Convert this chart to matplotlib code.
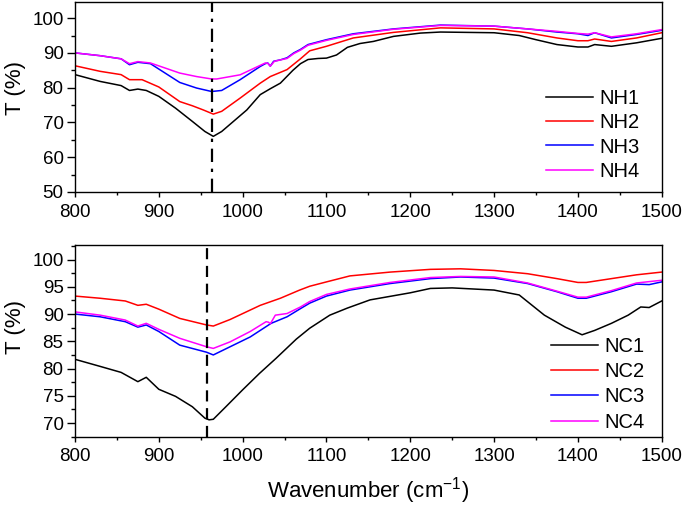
import matplotlib
matplotlib.use("Agg")
import matplotlib.pyplot as plt
from matplotlib.ticker import MultipleLocator

plt.rcParams['font.family'] = ['Liberation Sans', 'DejaVu Sans']
plt.rcParams['mathtext.fontset'] = 'custom'
plt.rcParams['mathtext.rm'] = 'Liberation Sans'

# ---------------- top panel data ----------------
nh1_x = [800, 830, 855, 865, 875, 885, 900, 920, 940, 955, 965, 975, 1005, 1021, 1033, 1045, 1060,
         1069, 1078, 1090, 1100, 1112, 1125, 1140, 1156, 1180, 1212, 1236, 1300, 1330, 1350, 1375,
         1400, 1412, 1420, 1440, 1470, 1500]
nh1_y = [83.75, 81.8, 80.6, 79.2, 79.6, 79.2, 77.5, 74.1, 70.3, 67.4, 66.0, 67.4, 73.6, 78.0, 79.7,
         81.3, 85.0, 86.9, 88.1, 88.4, 88.5, 89.4, 91.6, 92.7, 93.3, 94.75, 95.7, 96.0, 95.8, 95.0,
         93.8, 92.4, 91.7, 91.7, 92.4, 91.9, 92.9, 94.2]

nh2_x = [800, 830, 855, 865, 880, 900, 925, 940, 953, 965, 975, 997, 1021, 1033, 1053, 1069, 1080,
         1100, 1132, 1180, 1236, 1300, 1340, 1375, 1400, 1412, 1420, 1440, 1470, 1500]
nh2_y = [86.3, 84.7, 83.75, 82.3, 82.3, 80.2, 76.0, 74.8, 73.6, 72.4, 73.2, 77.0, 81.3, 83.2, 85.2,
         88.3, 90.6, 91.9, 94.3, 95.9, 97.2, 96.9, 95.8, 94.3, 93.5, 93.5, 94.0, 93.3, 94.3, 95.8]

nh3_x = [800, 830, 855, 865, 875, 890, 925, 945, 963, 975, 997, 1021, 1027, 1030, 1033, 1037, 1045,
         1053, 1061, 1069, 1078, 1100, 1132, 1180, 1236, 1300, 1340, 1375, 1400, 1412, 1420, 1440,
         1470, 1500]
nh3_y = [90.0, 89.2, 88.3, 86.6, 87.3, 86.9, 81.5, 79.9, 78.9, 79.2, 82.3, 86.1, 86.9, 87.1, 86.2,
         87.6, 88.0, 88.6, 90.0, 91.0, 92.4, 93.8, 95.5, 96.9, 98.0, 97.7, 96.9, 96.0, 95.5, 95.0,
         95.8, 94.3, 95.3, 96.5]

nh4_x = [800, 830, 855, 865, 875, 890, 925, 945, 963, 969, 997, 1027, 1030, 1033, 1038, 1053, 1061,
         1069, 1078, 1100, 1132, 1180, 1236, 1300, 1340, 1375, 1400, 1412, 1420, 1440, 1470, 1500]
nh4_y = [90.0, 89.2, 88.3, 86.9, 87.5, 87.1, 84.2, 83.2, 82.5, 82.5, 83.7, 87.1, 87.0, 86.2, 87.6,
         88.4, 89.8, 90.8, 92.2, 93.6, 95.3, 96.8, 97.9, 97.7, 96.9, 96.2, 95.6, 95.4, 95.8, 94.6,
         95.5, 96.7]

# ---------------- bottom panel data ----------------
nc1_x = [800, 830, 855, 875, 885, 900, 920, 940, 955, 960, 965, 980, 1000, 1020, 1040, 1064, 1080,
         1104, 1125, 1152, 1200, 1224, 1250, 1300, 1330, 1360, 1385, 1405, 1420, 1440, 1460, 1475,
         1485, 1500]
nc1_y = [81.7, 80.4, 79.3, 77.6, 78.4, 76.2, 74.9, 73.0, 70.9, 70.6, 70.7, 73.0, 76.1, 79.1, 81.9,
         85.4, 87.4, 89.8, 91.1, 92.6, 93.9, 94.7, 94.8, 94.4, 93.5, 89.8, 87.6, 86.2, 87.0, 88.3,
         89.8, 91.3, 91.2, 92.4]

nc2_x = [800, 830, 860, 875, 885, 900, 925, 957, 965, 985, 1021, 1045, 1068, 1080, 1100, 1128, 1176,
         1224, 1260, 1300, 1340, 1375, 1400, 1410, 1440, 1470, 1500]
nc2_y = [93.3, 92.9, 92.4, 91.6, 91.8, 90.9, 89.2, 88.0, 87.8, 89.0, 91.6, 92.9, 94.4, 95.1, 95.9,
         97.0, 97.7, 98.2, 98.3, 98.0, 97.4, 96.5, 95.8, 95.8, 96.5, 97.2, 97.7]

nc3_x = [800, 830, 860, 875, 885, 900, 925, 957, 965, 985, 1009, 1031, 1034, 1053, 1069, 1080, 1100,
         1128, 1176, 1224, 1260, 1300, 1340, 1375, 1400, 1410, 1440, 1470, 1485, 1500]
nc3_y = [90.0, 89.5, 88.6, 87.6, 88.0, 86.8, 84.3, 83.0, 82.5, 84.0, 85.8, 88.0, 88.3, 89.5, 91.0,
         92.0, 93.3, 94.4, 95.6, 96.5, 96.8, 96.6, 95.6, 94.1, 92.9, 92.9, 94.1, 95.5, 95.4, 95.9]

nc4_x = [800, 830, 860, 875, 885, 900, 925, 957, 965, 985, 1009, 1028, 1031, 1033, 1039, 1053, 1069,
         1080, 1100, 1128, 1176, 1224, 1260, 1300, 1340, 1375, 1400, 1410, 1440, 1470, 1500]
nc4_y = [90.4, 89.8, 88.9, 87.8, 88.3, 87.2, 85.55, 84.0, 83.7, 84.9, 86.8, 88.6, 88.5, 88.2, 89.8,
         90.1, 91.3, 92.3, 93.6, 94.6, 95.8, 96.7, 96.9, 96.8, 95.7, 94.2, 93.1, 93.1, 94.3, 95.7, 96.2]

top_labels = ["NH1", "NH2", "NH3", "NH4"]
bot_labels = ["NC1", "NC2", "NC3", "NC4"]
colors = ["black", "red", "blue", "magenta"]
top_marker_x = 963
bot_marker_x = 957

fig = plt.figure(figsize=(6.85, 5.09), dpi=100)
ax1 = fig.add_axes([0.1095, 0.6228, 0.8565, 0.373])
ax2 = fig.add_axes([0.1095, 0.142, 0.8565, 0.377])

top_series = [(nh1_x, nh1_y), (nh2_x, nh2_y), (nh3_x, nh3_y), (nh4_x, nh4_y)]
bot_series = [(nc1_x, nc1_y), (nc2_x, nc2_y), (nc3_x, nc3_y), (nc4_x, nc4_y)]

for (x, y), lab, c in zip(top_series, top_labels, colors):
    ax1.plot(x, y, color=c, lw=1.1, label=lab)
for (x, y), lab, c in zip(bot_series, bot_labels, colors):
    ax2.plot(x, y, color=c, lw=1.1, label=lab)

ax1.axvline(top_marker_x, color='black', lw=1.6, ls=(0, (6, 3, 1.5, 3)))
ax2.axvline(bot_marker_x, color='black', lw=1.6, ls=(0, (5, 3)))

ax1.set_xlim(800, 1500)
ax1.set_ylim(50, 104.6)
ax2.set_xlim(800, 1500)
ax2.set_ylim(67.5, 102.7)

ax1.yaxis.set_major_locator(MultipleLocator(10))
ax1.yaxis.set_minor_locator(MultipleLocator(5))
ax2.yaxis.set_major_locator(MultipleLocator(5))
ax2.yaxis.set_minor_locator(MultipleLocator(2.5))
for ax in (ax1, ax2):
    ax.xaxis.set_major_locator(MultipleLocator(100))
    ax.xaxis.set_minor_locator(MultipleLocator(50))
    ax.tick_params(axis='x', which='major', direction='out', length=3.8, width=1.0,
                   labelsize=13.5, pad=4.5, top=False)
    ax.tick_params(axis='x', which='minor', direction='out', length=2.4, width=1.0, top=False)
    ax.tick_params(axis='y', which='major', direction='out', length=5.7, width=1.0,
                   labelsize=13.5, pad=2.5, right=False)
    ax.tick_params(axis='y', which='minor', direction='out', length=2.8, width=1.0, right=False)
    for s in ax.spines.values():
        s.set_linewidth(1.0)
    ax.set_ylabel("T (%)", fontsize=16)

ax1.yaxis.set_label_coords(-0.083, 0.547)
ax2.yaxis.set_label_coords(-0.083, 0.571)

ax1.legend(loc='lower right', bbox_to_anchor=(0.963, 0.058), frameon=False, fontsize=14.5,
           handlelength=2.3, handletextpad=0.35, labelspacing=0.27, borderpad=0, borderaxespad=0)
ax2.legend(loc='lower right', bbox_to_anchor=(0.9715, 0.025), frameon=False, fontsize=14.5,
           handlelength=2.3, handletextpad=0.35, labelspacing=0.32, borderpad=0, borderaxespad=0)

ax2.set_xlabel("Wavenumber (cm$^{-1}$)", fontsize=16, labelpad=7)

fig.savefig("out.png", dpi=100)
